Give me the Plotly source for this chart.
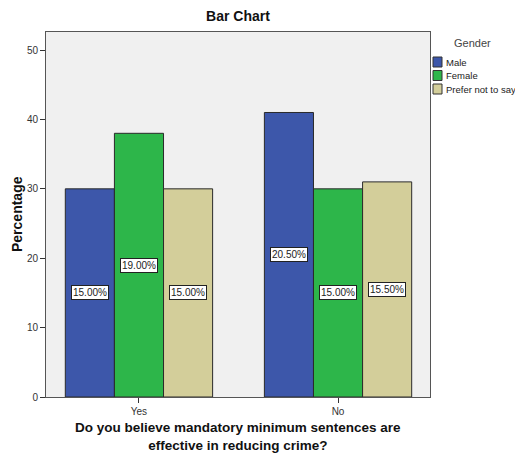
import plotly.graph_objects as go

categories = ["Yes", "No"]
series_names = ["Male", "Female", "Prefer not to say"]
male = [30, 41]
female = [38, 30]
prefer = [30, 31]
male_labels = ["15.00%", "20.50%"]
female_labels = ["19.00%", "15.00%"]
prefer_labels = ["15.00%", "15.50%"]
colors = ["#3D57AA", "#2DB64A", "#D3CE9A"]
x_title = "<b>Do you believe mandatory minimum sentences are<br>effective in reducing crime?</b>"
y_title = "<b>Percentage</b>"

values = [male, female, prefer]
labels = [male_labels, female_labels, prefer_labels]

# the page body has an 8px margin; compensate so the figure lines up with the window
OFF = 8
W, H = 523 - OFF, 454 - OFF
L, R, T, B = 46 - OFF, 93, 32 - OFF, 57
PW, PH = W - L - R, H - T - B


def px(x):  # window x -> paper
    return (x - OFF - L) / PW


def py(y):  # window y -> paper
    return (H - B - (y - OFF)) / PH


fig = go.Figure()
for name, vals, col in zip(series_names, values, colors):
    fig.add_trace(go.Bar(x=categories, y=vals, name=name, showlegend=False,
                         marker=dict(color=col, line=dict(color="#2a2a2a", width=1))))

bargap = 0.26
bw = (1 - bargap) / 3
for si, (vals, labs) in enumerate(zip(values, labels)):
    off = (si - 1) * bw
    for ci, (v, lab) in enumerate(zip(vals, labs)):
        fig.add_annotation(x=ci + off, y=v / 2, xref="x", yref="y", text=lab,
                           showarrow=False, bgcolor="white", bordercolor="#222",
                           borderwidth=1, borderpad=1,
                           font=dict(family="Arial, Liberation Sans", size=10, color="#222"))

# axis titles
fig.add_annotation(xref="paper", yref="paper", x=px(238), y=py(436.5), text=x_title,
                   showarrow=False, xanchor="center", yanchor="middle",
                   font=dict(family="Arial, Liberation Sans", size=13.5, color="#111"))
fig.add_annotation(xref="paper", yref="paper", x=px(17), y=py(214), text=y_title,
                   showarrow=False, xanchor="center", yanchor="middle", textangle=-90,
                   font=dict(family="Arial, Liberation Sans", size=14, color="#111"))

# legend (SPSS style: small swatches, text right next to them)
fig.add_annotation(xref="paper", yref="paper", x=px(472), y=py(43),
                   text="Gender", showarrow=False, xanchor="center", yanchor="middle",
                   font=dict(family="Arial, Liberation Sans", size=11, color="#444"))
for i, (name, col) in enumerate(zip(series_names, colors)):
    cy = 62 + i * 13.5
    fig.add_shape(type="rect", xref="paper", yref="paper", x0=px(433), x1=px(442),
                  y0=py(cy + 5), y1=py(cy - 5),
                  fillcolor=col, line=dict(color="#333", width=1))
    fig.add_annotation(xref="paper", yref="paper", x=px(444), y=py(cy), text=name,
                       showarrow=False, xanchor="left", yanchor="middle",
                       font=dict(family="Arial, Liberation Sans", size=9.5, color="#222"))

fig.update_layout(
    width=W, height=H,
    margin=dict(l=L, r=R, t=T, b=B, autoexpand=False),
    paper_bgcolor="white", plot_bgcolor="#F0F0F0",
    barmode="group", bargap=bargap, bargroupgap=0,
    title=dict(text="<b>Bar Chart</b>", x=(238 - OFF) / W, xanchor="center",
               y=1 - (16 - OFF) / H, yanchor="middle",
               font=dict(family="Arial, Liberation Sans", size=14, color="#111")),
    font=dict(family="Arial, Liberation Sans", color="#333"),
    showlegend=False,
)
fig.update_xaxes(range=[-0.467, 1.462], showline=True, linecolor="#555", linewidth=1, mirror=True,
                 ticks="outside", ticklen=5, tickcolor="#333", automargin=False,
                 tickfont=dict(size=10, color="#333"), showgrid=False)
fig.update_yaxes(range=[0, 52.6], tickvals=[0, 10, 20, 30, 40, 50], showline=True, linecolor="#555",
                 linewidth=1, mirror=True, ticks="outside", ticklen=5, tickcolor="#333", automargin=False,
                 tickfont=dict(size=10, color="#333"), showgrid=False, zeroline=False)

fig.write_html("out.html")
